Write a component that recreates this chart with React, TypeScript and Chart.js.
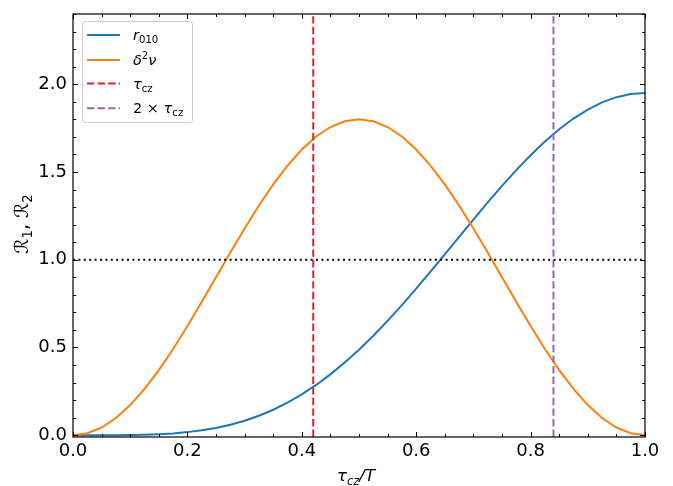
import React, { useEffect, useRef } from "react";
import { Chart, registerables } from "chart.js";
Chart.register(...registerables);

// ---- data ----
const xValues = [
  0, 0.025, 0.05, 0.075, 0.1, 0.125, 0.15, 0.175, 0.2, 0.225,
  0.25, 0.275, 0.3, 0.325, 0.35, 0.375, 0.4, 0.425, 0.45, 0.475,
  0.5, 0.525, 0.55, 0.575, 0.6, 0.625, 0.65, 0.675, 0.7, 0.725,
  0.75, 0.775, 0.8, 0.825, 0.85, 0.875, 0.9, 0.925, 0.95, 0.975, 1.0,
];
const r010 = [
  0.0, 0.0, 0.0001, 0.0004, 0.0012, 0.0028, 0.0058, 0.0106, 0.0178, 0.028,
  0.0418, 0.0599, 0.0828, 0.1112, 0.1453, 0.1858, 0.2328, 0.2865, 0.3469, 0.414,
  0.4875, 0.567, 0.652, 0.7417, 0.8353, 0.932, 1.0306, 1.13, 1.229, 1.3263,
  1.4207, 1.5108, 1.5954, 1.6732, 1.7432, 1.8044, 1.8557, 1.8965, 1.9261, 1.944, 1.95,
];
const delta2nu = [
  0.0, 0.0111, 0.044, 0.0981, 0.1719, 0.2636, 0.371, 0.4914, 0.6219, 0.7592,
  0.9, 1.0408, 1.1781, 1.3086, 1.429, 1.5364, 1.6281, 1.7019, 1.756, 1.7889,
  1.8, 1.7889, 1.756, 1.7019, 1.6281, 1.5364, 1.429, 1.3086, 1.1781, 1.0408,
  0.9, 0.7592, 0.6219, 0.4914, 0.371, 0.2636, 0.1719, 0.0981, 0.044, 0.0111, 0.0,
];
const tauCz = 0.42;
const twoTauCz = 0.84;
const thresholdY = 1.0;

const xTicks = [0, 0.2, 0.4, 0.6, 0.8, 1.0];
const yTicks = [0, 0.5, 1.0, 1.5, 2.0];
const X_MIN = 0, X_MAX = 1, Y_MIN = -0.01, Y_MAX = 2.4;
const X_MINOR = 0.05, Y_MINOR = 0.1;

const seriesLabels = ["r_010", "δ²ν", "τ_cz", "2 × τ_cz"];
type Seg = { t: string; it?: boolean; sub?: boolean; sup?: boolean };
const legendRich: Seg[][] = [
  [{ t: "r", it: true }, { t: "010", sub: true }],
  [{ t: "δ", it: true }, { t: "2", sup: true }, { t: "ν", it: true }],
  [{ t: "τ", it: true }, { t: "cz", sub: true }],
  [{ t: "2 × " }, { t: "τ", it: true }, { t: "cz", sub: true }],
];
const xTitle: Seg[] = [{ t: "τ", it: true }, { t: "cz", it: true, sub: true }, { t: "/", it: true }, { t: "T", it: true }];
const yTitle: Seg[] = [{ t: "ℛ" }, { t: "1", sub: true }, { t: ", " }, { t: "ℛ" }, { t: "2", sub: true }];

const colors = ["#1f77b4", "#ff7f0e", "#d62728", "#9467bd"];
const FONT = '"DejaVu Sans", sans-serif';

function richWidth(ctx: CanvasRenderingContext2D, segs: Seg[], fs: number) {
  let w = 0;
  for (const s of segs) {
    const size = s.sub || s.sup ? fs * 0.7 : fs;
    ctx.font = `${s.it ? "italic " : ""}${size}px ${FONT}`;
    w += ctx.measureText(s.t).width;
  }
  return w;
}
function drawRich(ctx: CanvasRenderingContext2D, segs: Seg[], x: number, y: number, fs: number) {
  ctx.textBaseline = "alphabetic";
  ctx.textAlign = "left";
  for (const s of segs) {
    const size = s.sub || s.sup ? fs * 0.7 : fs;
    const dy = s.sub ? fs * 0.22 : s.sup ? -fs * 0.4 : 0;
    ctx.font = `${s.it ? "italic " : ""}${size}px ${FONT}`;
    ctx.fillText(s.t, x, y + dy);
    x += ctx.measureText(s.t).width;
  }
}

const decorPlugin = {
  id: "decor",
  afterDraw(chart: any) {
    const { ctx, chartArea: a, scales } = chart;
    const xs = scales.x, ys = scales.y;
    ctx.save();
    ctx.strokeStyle = "#000";
    ctx.lineWidth = 1;
    const tick = (x1: number, y1: number, x2: number, y2: number) => {
      ctx.beginPath(); ctx.moveTo(x1, y1); ctx.lineTo(x2, y2); ctx.stroke();
    };
    const nx = Math.round((X_MAX - X_MIN) / X_MINOR);
    for (let i = 0; i <= nx; i++) {
      const v = X_MIN + i * X_MINOR;
      const major = xTicks.some((t) => Math.abs(t - v) < 1e-9);
      const len = major ? 5 : 3;
      const px = Math.round(xs.getPixelForValue(v)) + 0.5;
      tick(px, a.bottom, px, a.bottom - len);
      tick(px, a.top, px, a.top + len);
    }
    const ny = Math.floor((Y_MAX - 0) / Y_MINOR + 1e-9);
    for (let i = 0; i <= ny; i++) {
      const v = i * Y_MINOR;
      const major = yTicks.some((t) => Math.abs(t - v) < 1e-9);
      const len = major ? 5 : 3;
      const py = Math.round(ys.getPixelForValue(v)) + 0.5;
      tick(a.left, py, a.left + len, py);
      tick(a.right, py, a.right - len, py);
    }
    ctx.lineWidth = 1.2;
    ctx.strokeRect(a.left, a.top, a.right - a.left, a.bottom - a.top);

    // legend
    const bx = a.left + 9, by = a.top + 7, bw = 110, bh = 101;
    ctx.fillStyle = "rgba(255,255,255,0.8)";
    ctx.strokeStyle = "#cccccc";
    ctx.lineWidth = 1;
    ctx.beginPath();
    (ctx as any).roundRect(bx + 0.5, by + 0.5, bw, bh, 3);
    ctx.fill();
    ctx.stroke();
    const rows = [35, 60, 83.5, 108.3];
    for (let i = 0; i < 4; i++) {
      const y = rows[i];
      ctx.strokeStyle = colors[i];
      ctx.lineWidth = 2;
      ctx.setLineDash(i >= 2 ? [7.4, 3.2] : []);
      ctx.beginPath(); ctx.moveTo(87, y); ctx.lineTo(120, y); ctx.stroke();
      ctx.setLineDash([]);
      ctx.fillStyle = "#000";
      drawRich(ctx, legendRich[i], 133, y + 5, 14.5);
    }

    // axis titles
    ctx.fillStyle = "#000";
    const fsT = 16.5;
    const wx = richWidth(ctx, xTitle, fsT);
    drawRich(ctx, xTitle, 356 - wx / 2, 481, fsT);
    const fsY = 19;
    const wy = richWidth(ctx, yTitle, fsY);
    ctx.translate(28, 224);
    ctx.rotate(-Math.PI / 2);
    drawRich(ctx, yTitle, -wy / 2, 0, fsY);
    ctx.restore();
  },
};

export default function App() {
  const ref = useRef<HTMLCanvasElement>(null);
  useEffect(() => {
    const pts = (ys: number[]) => xValues.map((x, i) => ({ x, y: ys[i] }));
    const base = { pointRadius: 0, borderWidth: 2, fill: false, tension: 0 };
    const chart = new Chart(ref.current!, {
      type: "line",
      data: {
        datasets: [
          { ...base, label: seriesLabels[0], data: pts(r010), borderColor: colors[0], order: 5 },
          { ...base, label: seriesLabels[1], data: pts(delta2nu), borderColor: colors[1], order: 4 },
          { ...base, label: seriesLabels[2], data: [{ x: tauCz, y: Y_MIN }, { x: tauCz, y: Y_MAX }], borderColor: colors[2], borderDash: [7.4, 3.2], order: 3 },
          { ...base, label: seriesLabels[3], data: [{ x: twoTauCz, y: Y_MIN }, { x: twoTauCz, y: Y_MAX }], borderColor: colors[3], borderDash: [7.4, 3.2], order: 2 },
          { ...base, label: "threshold", data: [{ x: X_MIN, y: thresholdY }, { x: X_MAX, y: thresholdY }], borderColor: "#000", borderDash: [2, 3.4], order: 1 },
        ] as any,
      },
      options: {
        animation: false,
        responsive: false,
        devicePixelRatio: 1,
        layout: { padding: { top: 14, right: 28, left: 0, bottom: 0 } },
        plugins: { legend: { display: false }, tooltip: { enabled: false } },
        scales: {
          x: {
            type: "linear", min: X_MIN, max: X_MAX,
            grid: { display: false, drawTicks: false },
            border: { display: false },
            afterBuildTicks: (s: any) => { s.ticks = xTicks.map((v) => ({ value: v })); },
            afterFit: (s: any) => { s.height = 49; s.paddingLeft = 0; s.paddingRight = 0; },
            ticks: { color: "#000", font: { family: "DejaVu Sans", size: 18 }, padding: 4, maxRotation: 0, callback: (v: any) => Number(v).toFixed(1) },
          },
          y: {
            type: "linear", min: Y_MIN, max: Y_MAX,
            grid: { display: false, drawTicks: false },
            border: { display: false },
            afterBuildTicks: (s: any) => { s.ticks = yTicks.map((v) => ({ value: v })); },
            afterFit: (s: any) => { s.width = 73; s.paddingTop = 0; s.paddingBottom = 0; },
            ticks: { color: "#000", font: { family: "DejaVu Sans", size: 18 }, padding: 6, callback: (v: any) => Number(v).toFixed(1) },
          },
        },
      } as any,
      plugins: [decorPlugin],
    });
    return () => chart.destroy();
  }, []);
  return (
    <div style={{ position: "fixed", left: 0, top: 0, width: 673, height: 486, background: "#fff" }}>
      <canvas ref={ref} width={673} height={486} style={{ width: 673, height: 486, display: "block" }} />
    </div>
  );
}
